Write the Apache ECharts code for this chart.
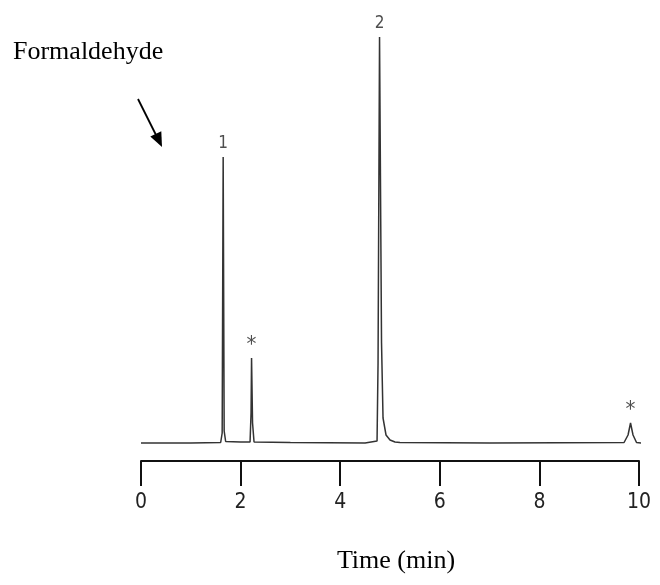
<!DOCTYPE html>
<html>
<head>
<meta charset="utf-8">
<script src="https://cdn.jsdelivr.net/npm/echarts@6/dist/echarts.min.js"></script>
<style>
  html, body { margin: 0; padding: 0; background: #fff; }
  #chart { width: 660px; height: 585px; }
</style>
</head>
<body>
<div id="chart"></div>
<script>
// chromatogram trace (time in min, signal in arbitrary units)
const traceTime = [0.0, 1.0, 1.6, 1.63, 1.65, 1.67, 1.70, 2.0, 2.19, 2.21, 2.22, 2.24, 2.27, 3.0,
  4.5, 4.74, 4.76, 4.79, 4.83, 4.86, 4.92, 5.0, 5.1, 5.2, 7.0, 9.7, 9.78, 9.83, 9.88, 9.95, 10.05]
const traceSignal = [0, 0, 0.5, 10, 286, 12, 1.5, 1, 1, 30, 85, 20, 1, 0.5,
  0, 2, 80, 406, 100, 25, 8, 3, 1, 0.5, 0, 0.5, 8, 20, 8, 0.5, 0]

// peak labels
const peakTime = [1.65, 2.22, 4.79, 9.83]
const peakSignal = [286, 85, 406, 20]
const peakNames = ['1', '*', '2', '*']

const xTicks = [0, 2, 4, 6, 8, 10]

const serif = "'Liberation Serif', 'Times New Roman', serif"
const narrow = "'Liberation Sans Narrow', 'DejaVu Sans Condensed', sans-serif"

const chart = echarts.init(document.getElementById('chart'))

chart.setOption({
  animation: false,
  title: {
    text: 'Formaldehyde',
    left: 13,
    top: 39,
    padding: 0,
    textStyle: {
      fontFamily: serif,
      fontSize: 26,
      fontWeight: 'normal',
      color: '#000'
    }
  },
  grid: {
    left: 141,
    right: 21,
    top: 37,
    bottom: 124
  },
  xAxis: {
    type: 'value',
    min: 0,
    max: 10,
    interval: 2,
    name: 'Time (min)',
    nameLocation: 'middle',
    nameGap: 87,
    nameTextStyle: {
      fontFamily: serif,
      fontSize: 26,
      color: '#000',
      padding: [0, 0, 0, 12]
    },
    axisLine: {
      show: true,
      onZero: false,
      lineStyle: { color: '#111', width: 2 }
    },
    axisTick: {
      show: true,
      length: 25,
      lineStyle: { color: '#111', width: 2 }
    },
    axisLabel: {
      margin: 31,
      fontFamily: narrow,
      fontSize: 21,
      color: '#222',
      formatter: function (v) {
        return xTicks.indexOf(v) >= 0 ? String(v) : ''
      }
    },
    splitLine: { show: false }
  },
  yAxis: {
    type: 'value',
    min: -18,
    max: 406,
    show: false,
    splitLine: { show: false }
  },
  series: [
    {
      type: 'line',
      data: traceTime.map((t, i) => [t, traceSignal[i]]),
      showSymbol: false,
      symbol: 'none',
      clip: false,
      lineStyle: { color: '#333', width: 1.5 }
    },
    {
      type: 'scatter',
      data: peakTime.map((t, i) => ({
        value: [t, peakSignal[i]],
        name: peakNames[i],
        label: peakNames[i] === '*' ? { fontSize: 22, distance: 2 } : {}
      })),
      symbolSize: 0,
      label: {
        show: true,
        position: 'top',
        distance: 5,
        formatter: p => p.name,
        fontFamily: narrow,
        fontSize: 17,
        color: '#222'
      }
    }
  ],
  graphic: [
    {
      type: 'line',
      shape: { x1: 138, y1: 99, x2: 157, y2: 137 },
      style: { stroke: '#000', lineWidth: 1.8 }
    },
    {
      type: 'polygon',
      shape: { points: [[162, 147], [150.3, 136.5], [161.3, 131.2]] },
      style: { fill: '#000' }
    }
  ]
})
</script>
</body>
</html>
